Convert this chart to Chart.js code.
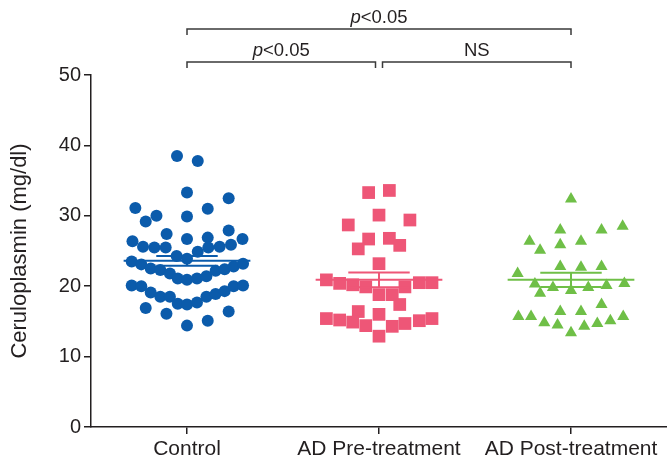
<!DOCTYPE html>
<html>
<head>
<meta charset="utf-8">
<title>Ceruloplasmin</title>
<script src="https://cdn.jsdelivr.net/npm/chart.js@4.4.1/dist/chart.umd.min.js"></script>
<style>
  body { margin: 0; background: #fff; }
  #wrap { width: 667px; height: 462px; }
</style>
</head>
<body>
<div id="wrap"><canvas id="chart"></canvas></div>
<script>
// groups and y ticks
var categories = ['Control', 'AD Pre-treatment', 'AD Post-treatment'];
var yTicks = [0, 10, 20, 30, 40, 50];

// individual values (mg/dl) and horizontal spread inside each column (category units)
var controlValues = [38.5, 37.8, 33.3, 32.5, 31.1, 31.0, 30.0, 29.9, 29.2, 27.4, 27.9, 26.7, 26.9, 26.4, 26.7,
  25.6, 25.5, 25.5, 25.5, 25.6, 25.9, 24.9, 24.3, 23.9, 23.5, 23.1, 22.5, 22.3, 21.8, 21.1, 20.9, 21.1, 21.4,
  22.2, 22.4, 22.8, 23.2, 20.1, 20.0, 19.1, 18.5, 18.5, 17.5, 17.4, 17.7, 18.5, 18.9, 19.3, 20.0, 20.1,
  16.9, 16.1, 16.4, 15.1, 14.4];
var controlSpread = [-0.052, 0.056, 0, 0.217, -0.269, 0.108, -0.159, 0, -0.215, -0.106, 0.217, 0, 0.108, -0.284, 0.289,
  -0.229, -0.170, -0.111, 0.111, 0.170, 0.229, 0.056, -0.054, 0, -0.288, -0.238, -0.189, -0.139, -0.089, -0.048, 0, 0.052, 0.101,
  0.149, 0.196, 0.243, 0.292, -0.288, -0.238, -0.189, -0.139, -0.089, -0.048, 0, 0.052, 0.101, 0.149, 0.196, 0.243, 0.292,
  -0.215, -0.107, 0.217, 0.108, 0];

var preValues = [33.3, 33.6, 30.1, 29.4, 28.7, 26.7, 26.8, 25.8, 25.3, 23.2, 20.9, 20.4, 20.2, 19.9, 19.9, 20.5, 20.5,
  18.8, 18.8, 17.4, 16.4, 16.0, 15.4, 15.2, 14.9, 14.4, 14.3, 14.7, 15.1, 15.4, 12.9];
var preSpread = [-0.054, 0.054, 0, 0.161, -0.160, -0.054, 0.054, 0.108, -0.108, 0, -0.274, -0.205, -0.137, -0.069, 0.135, 0.210, 0.276,
  0, 0.069, 0.108, -0.108, 0, -0.274, -0.205, -0.137, -0.069, 0.069, 0.135, 0.210, 0.276, 0];

var postValues = [32.4, 28.0, 28.0, 28.5, 26.4, 26.4, 25.9, 25.1, 22.8, 22.7, 22.8, 21.8, 20.3, 19.8, 19.4, 19.8, 20.1, 20.4,
  19.0, 17.4, 16.4, 16.4, 15.7, 15.7, 15.7, 14.8, 14.5, 15.1, 14.3, 14.7, 13.4];
var postSpread = [0, -0.056, 0.159, 0.269, -0.216, 0.052, -0.056, -0.161, -0.056, 0.052, 0.159, -0.278, -0.188, -0.094, 0, 0.090, 0.185, 0.278,
  -0.161, 0.159, -0.056, 0.052, -0.274, -0.208, 0.272, -0.139, -0.070, 0.205, 0.069, 0.137, 0];

// mean and SEM per group
var groupMeans = [23.6, 20.9, 20.9];
var groupSems = [0.7, 1.05, 1.0];

// significance brackets
var compareFrom = [0, 0, 1];
var compareTo = [2, 1, 2];
var compareLabels = ['p<0.05', 'p<0.05', 'NS'];

var colors = ['#0b5bab', '#ee5677', '#6fbf47'];
var ink = '#231f20';
var fontFamily = "'Liberation Sans', Arial, Helvetica, sans-serif";

function points(values, spread, g) {
  return values.map(function (v, i) { return { x: g + 1 + spread[i], y: v }; });
}

var meanHalf = 0.33, capHalf = 0.16;
var lineSets = [];
groupMeans.forEach(function (m, g) {
  var c = g + 1, s = groupSems[g];
  lineSets.push({
    type: 'line', data: [{ x: c - meanHalf, y: m }, { x: c + meanHalf, y: m }],
    borderColor: colors[g], borderWidth: 2, pointRadius: 0, showLine: true
  });
  lineSets.push({
    type: 'line',
    data: [{ x: c - capHalf, y: m + s }, { x: c + capHalf, y: m + s }, { x: c, y: null },
      { x: c, y: m + s }, { x: c, y: m - s }, { x: c, y: null },
      { x: c - capHalf, y: m - s }, { x: c + capHalf, y: m - s }],
    borderColor: colors[g], borderWidth: 2, pointRadius: 0, showLine: true, spanGaps: false
  });
});

var brackets = {
  id: 'brackets',
  afterDraw: function (chart) {
    var ctx = chart.ctx, xs = chart.scales.x, top = chart.chartArea.top;
    ctx.save();
    ctx.strokeStyle = '#3a3a3a';
    ctx.lineWidth = 1.5;
    ctx.fillStyle = ink;
    for (var i = 0; i < compareLabels.length; i++) {
      var outer = (compareTo[i] - compareFrom[i]) > 1;
      var y = outer ? top - 46 : top - 13;
      var x1 = xs.getPixelForValue(compareFrom[i] + 1);
      var x2 = xs.getPixelForValue(compareTo[i] + 1);
      if (!outer) {
        if (compareTo[i] === 1) x2 -= 3.5;
        if (compareFrom[i] === 1) x1 += 3.5;
      }
      ctx.beginPath();
      ctx.moveTo(x1, y + 6); ctx.lineTo(x1, y); ctx.lineTo(x2, y); ctx.lineTo(x2, y + 6);
      ctx.stroke();
      var label = compareLabels[i], cx = (x1 + x2) / 2, by = y - 6;
      ctx.textBaseline = 'alphabetic';
      ctx.textAlign = 'left';
      if (label.charAt(0) === 'p') {
        ctx.font = 'italic 18.5px ' + fontFamily;
        var wp = ctx.measureText('p').width;
        ctx.font = '18.5px ' + fontFamily;
        var wr = ctx.measureText(label.slice(1)).width;
        var sx = cx - (wp + wr) / 2;
        ctx.font = 'italic 18.5px ' + fontFamily;
        ctx.fillText('p', sx, by);
        ctx.font = '18.5px ' + fontFamily;
        ctx.fillText(label.slice(1), sx + wp, by);
      } else {
        ctx.font = '18.5px ' + fontFamily;
        ctx.textAlign = 'center';
        ctx.fillText(label, cx, by);
      }
    }
    ctx.restore();
  }
};

var chart = new Chart(document.getElementById('chart'), {
  type: 'scatter',
  data: {
    datasets: lineSets.concat([
      { data: points(controlValues, controlSpread, 0), pointStyle: 'circle', pointRadius: 6, backgroundColor: colors[0], borderWidth: 0 },
      { data: points(preValues, preSpread, 1), pointStyle: 'rect', pointRadius: 9, backgroundColor: colors[1], borderWidth: 0 },
      { data: points(postValues, postSpread, 2), pointStyle: 'triangle', pointRadius: 7, backgroundColor: colors[2], borderWidth: 0 }
    ])
  },
  options: {
    responsive: true,
    maintainAspectRatio: false,
    animation: false,
    layout: { autoPadding: false, padding: { top: 75, right: 0, bottom: 0, left: 0 } },
    plugins: { legend: { display: false }, tooltip: { enabled: false } },
    scales: {
      x: {
        type: 'linear', min: 0.5, max: 3.5,
        afterBuildTicks: function (s) { s.ticks = categories.map(function (c, i) { return { value: i + 1 }; }); },
        afterFit: function (s) { s.height = 35; s.paddingLeft = 0; s.paddingRight = 0; },
        ticks: {
          autoSkip: false, maxRotation: 0, padding: 3, color: ink,
          font: { family: fontFamily, size: 21 },
          callback: function (v) { return categories[v - 1]; }
        },
        grid: { drawOnChartArea: false, tickLength: 7, color: ink, lineWidth: 1.5 },
        border: { color: ink, width: 1.5 }
      },
      y: {
        min: 0, max: 50,
        afterBuildTicks: function (s) { s.ticks = yTicks.map(function (v) { return { value: v }; }); },
        afterFit: function (s) { s.width = 91; },
        ticks: { padding: 3, color: ink, font: { family: fontFamily, size: 20 } },
        grid: { drawOnChartArea: false, tickLength: 7, color: ink, lineWidth: 1.5 },
        border: { color: ink, width: 1.5 },
        title: {
          display: true, text: 'Ceruloplasmin (mg/dl)', color: ink,
          font: { family: fontFamily, size: 22 }, padding: { top: 7, bottom: 0 }
        }
      }
    }
  },
  plugins: [brackets]
});
</script>
</body>
</html>
